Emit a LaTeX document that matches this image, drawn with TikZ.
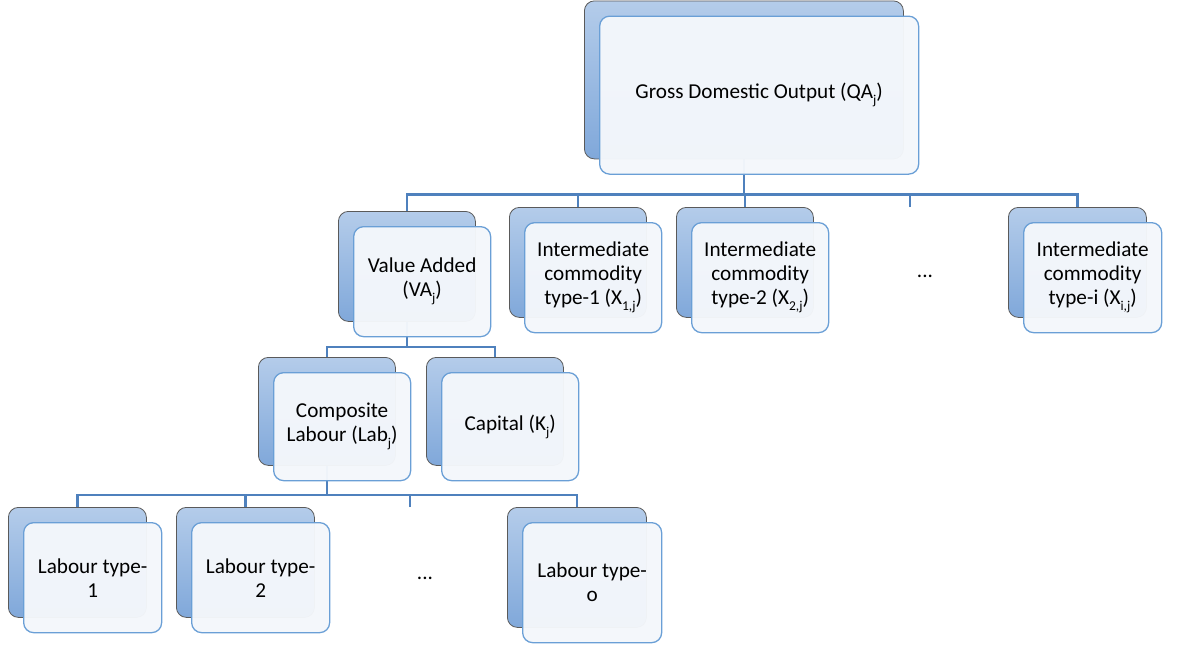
\documentclass[tikz,border=0pt]{standalone}
\usepackage{fontspec}
\setmainfont{Carlito}
\usetikzlibrary{backgrounds,calc}
\definecolor{backtop}{HTML}{B4CCEA}
\definecolor{backbot}{HTML}{80A8DA}
\definecolor{backline}{HTML}{5A5A5A}
\definecolor{frontfill}{HTML}{F4F7FB}
\definecolor{frontline}{HTML}{6A9FD6}
\definecolor{linkline}{HTML}{4F81BD}
\newcommand\lowidx[1]{\raisebox{-0.28em}{\fontsize{13.5}{13.5}\selectfont #1}}
\tikzset{
  backbox/.style={rectangle, rounded corners=10pt, draw=backline, line width=0.8pt,
    top color=backtop, bottom color=backbot, anchor=north west, inner sep=0pt},
  frontbox/.style={rectangle, rounded corners=10pt, draw=frontline, line width=1.3pt,
    fill=frontfill, fill opacity=0.97, text opacity=1, anchor=north west,
    align=center, inner sep=0pt, font=\fontsize{21.2}{24}\selectfont},
  link/.style={draw=linkline, line width=2.4pt},
  dots/.style={font=\fontsize{21.2}{24}\selectfont}
}
% stacked pair: name, x, y of back box, width, height, label
\newcommand\stackbox[6]{%
  \node[backbox, minimum width=#4pt, minimum height=#5pt] (#1-back) at (#2,#3) {};
  \node[frontbox, minimum width=#4pt, minimum height=#5pt] (#1) at (#2+15,#3+15) {#6};
}
\begin{document}
\begin{tikzpicture}[x=1pt,y=-1pt]
\useasboundingbox (0,0) rectangle (1182,645);

\stackbox{gdo}{584}{0.5}{319}{158}{Gross Domestic Output (QA\lowidx{j})}

\stackbox{va}{338}{211}{137}{110}{Value Added\\(VA\lowidx{j})}
\stackbox{xa}{509}{207}{137}{110}{Intermediate\\commodity\\type-1 (X\lowidx{1,j})}
\stackbox{xb}{676}{207}{137}{110}{Intermediate\\commodity\\type-2 (X\lowidx{2,j})}
\stackbox{xi}{1008}{207}{138}{110}{Intermediate\\commodity\\type-i (X\lowidx{i,j})}
\node[dots] (dotsx) at (925,276) {...};
\coordinate (stubx) at (910,207);

\stackbox{comp}{258}{357}{137}{108}{Composite\\Labour (Lab\lowidx{j})}
\stackbox{cap}{426}{357}{137}{108}{Capital (K\lowidx{j})}

\stackbox{lt1}{8}{507}{138}{110}{Labour type-\\1}
\stackbox{lt2}{176}{507}{138}{110}{Labour type-\\2}
\stackbox{lto}{507}{507}{139}{120}{Labour type-\\o}
\node[dots] (dotsl) at (425,578) {...};
\coordinate (stubl) at (410,507);

% connectors, drawn underneath the boxes
\begin{scope}[on background layer]
  \coordinate (busa) at ($(gdo-back.south)+(0,35)$);
  \draw[link] (gdo-back.south) -- (busa);
  \foreach \c in {va-back.north, xa-back.north, xb-back.north, xi-back.north, stubx}
    \draw[link] (\c) |- (busa);
  \coordinate (busb) at ($(va-back.south)+(0,25)$);
  \draw[link] (va-back.south) -- (busb);
  \foreach \c in {comp-back.north, cap-back.north}
    \draw[link] (\c) |- (busb);
  \coordinate (busc) at ($(comp-back.south)+(0,29)$);
  \draw[link] (comp-back.south) -- (busc);
  \foreach \c in {lt1-back.north, lt2-back.north, stubl, lto-back.north}
    \draw[link] (\c) |- (busc);
\end{scope}
\end{tikzpicture}
\end{document}
